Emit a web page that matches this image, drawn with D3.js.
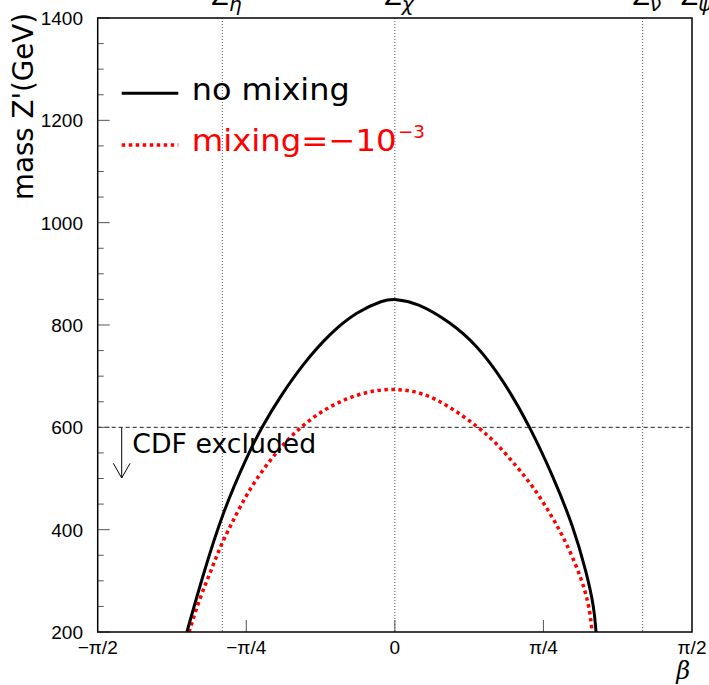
<!DOCTYPE html>
<html>
<head>
<meta charset="utf-8">
<script src="https://cdn.jsdelivr.net/npm/d3@7"></script>
<style>
  html, body { margin: 0; padding: 0; background: #fff; }
  svg { display: block; }
</style>
</head>
<body>
<svg id="chart" width="709" height="685"></svg>
<script>
// ---- data ----
const noMixBeta = [-1.0994, -1.0117, -0.906, -0.7823, -0.703, -0.6064, -0.4833, -0.3422, -0.2011, -0.0605, 0, 0.116, 0.292, 0.433, 0.5736, 0.7147, 0.8378, 0.9435, 1.0143, 1.0529, 1.0635];
const noMixMass = [200, 315, 438, 543, 601, 660, 725, 784, 826, 849, 851, 844, 806, 761, 692, 601, 503, 406, 315, 249, 200];
const mixBeta = [-1.088, -1.029, -0.9763, -0.9235, -0.8707, -0.8178, -0.7475, -0.6593, -0.571, -0.4833, -0.3776, -0.2539, -0.1308, 0, 0.1509, 0.292, 0.433, 0.5387, 0.6444, 0.7321, 0.8204, 0.8907, 0.9615, 1.0053, 1.0318, 1.0423];
const mixMass = [200, 269, 315, 367, 406, 445, 491, 536, 575, 605, 634, 657, 671, 676, 668, 640, 603, 569, 523, 484, 432, 386, 328, 282, 240, 200];
const betaTickValues = [-Math.PI / 2, -Math.PI / 4, 0, Math.PI / 4, Math.PI / 2];
const betaTickLabels = ["\u2212\u03c0/2", "\u2212\u03c0/4", "0", "\u03c0/4", "\u03c0/2"];
const massTickValues = [200, 400, 600, 800, 1000, 1200, 1400];
const modelNames = ["\u03b7", "\u03c7", "\u03bd", "\u03c8"];
const modelBeta = [-0.912, 0, 1.31, Math.PI / 2];
const cdfLimit = 600;
const legendLabels = ["no mixing", "mixing=\u221210"];
const legendSup = "\u22123";

// ---- layout ----
const svg = d3.select("#chart");
const pL = 97.7, pR = 692, pT = 18, pB = 632;
const x = d3.scaleLinear().domain([-Math.PI / 2, Math.PI / 2]).range([pL, pR]);
const y = d3.scaleLinear().domain([200, 1400]).range([pB, pT]);

svg.append("rect").attr("width", 709).attr("height", 685).attr("fill", "#fff");

svg.append("clipPath").attr("id", "plotclip")
  .append("rect").attr("x", pL).attr("y", pT).attr("width", pR - pL).attr("height", pB - pT);

// model dotted lines
svg.append("g").selectAll("line").data(modelBeta.slice(0, 3)).join("line")
  .attr("x1", d => x(d)).attr("x2", d => x(d))
  .attr("y1", pT).attr("y2", pB)
  .attr("stroke", "#555").attr("stroke-width", 1).attr("stroke-dasharray", "1,2");

// CDF excluded dashed line
svg.append("line")
  .attr("x1", pL).attr("x2", pR).attr("y1", y(cdfLimit)).attr("y2", y(cdfLimit))
  .attr("stroke", "#222").attr("stroke-width", 1).attr("stroke-dasharray", "4,3");

// y axis ticks (inside)
const yMinor = d3.range(200, 1401, 50);
svg.append("g").selectAll("line").data(yMinor).join("line")
  .attr("x1", pL).attr("x2", d => pL + (d % 200 === 0 ? 12 : 6))
  .attr("y1", d => y(d)).attr("y2", d => y(d))
  .attr("stroke", "#555").attr("stroke-width", 1);

// y tick labels
svg.append("g").selectAll("text").data(massTickValues).join("text")
  .attr("x", 83).attr("y", d => y(d)).attr("dy", "0.36em")
  .attr("text-anchor", "end")
  .attr("font-family", "Liberation Sans, Arial, sans-serif").attr("font-size", 19)
  .attr("fill", "#000")
  .text(d => d);

// x ticks (inside, upward)
svg.append("g").selectAll("line").data(betaTickValues.slice(1, 4)).join("line")
  .attr("x1", d => x(d)).attr("x2", d => x(d))
  .attr("y1", pB).attr("y2", pB - 12)
  .attr("stroke", "#555").attr("stroke-width", 1);

// x tick labels
svg.append("g").selectAll("text").data(betaTickValues).join("text")
  .attr("x", d => x(d)).attr("y", 654)
  .attr("text-anchor", "middle")
  .attr("font-family", "Liberation Sans, Arial, sans-serif").attr("font-size", 19)
  .attr("fill", "#000")
  .text((d, i) => betaTickLabels[i]);

// x axis title
svg.append("text").attr("x", 690).attr("y", 679).attr("text-anchor", "end")
  .attr("font-family", "DejaVu Serif, serif").attr("font-style", "italic").attr("font-size", 24)
  .text("\u03b2");

// y axis title
svg.append("text")
  .attr("transform", "translate(33,13) rotate(-90)")
  .attr("text-anchor", "end")
  .attr("font-family", "DejaVu Sans, sans-serif").attr("font-size", 28)
  .attr("textLength", 187).attr("lengthAdjust", "spacingAndGlyphs")
  .text("mass Z'(GeV)");

// model labels at top
const ml = svg.append("g").selectAll("text").data(modelBeta).join("text")
  .attr("x", d => x(d) + 4).attr("y", 5)
  .attr("text-anchor", "middle")
  .attr("font-family", "DejaVu Sans, sans-serif").attr("font-size", 26);
ml.append("tspan").text("Z");
ml.append("tspan").attr("font-size", 20).attr("font-style", "italic").attr("dy", 6).text((d, i) => modelNames[i]);

// curves
const line = d3.line().x(d => x(d[0])).y(d => y(d[1])).curve(d3.curveBasis);
const plot = svg.append("g").attr("clip-path", "url(#plotclip)");
plot.append("path")
  .attr("d", line(mixBeta.map((b, i) => [b, mixMass[i]])))
  .attr("fill", "none").attr("stroke", "#ff0000").attr("stroke-width", 3.5)
  .attr("stroke-dasharray", "3.5,3.5");
plot.append("path")
  .attr("d", line(noMixBeta.map((b, i) => [b, noMixMass[i]])))
  .attr("fill", "none").attr("stroke", "#000").attr("stroke-width", 3);

// frame
svg.append("rect").attr("x", pL).attr("y", pT).attr("width", pR - pL).attr("height", pB - pT)
  .attr("fill", "none").attr("stroke", "#000").attr("stroke-width", 1.5);

// CDF excluded annotation
svg.append("text").attr("x", 132.3).attr("y", 453.3)
  .attr("font-family", "DejaVu Sans, sans-serif").attr("font-size", 26)
  .attr("textLength", 184).attr("lengthAdjust", "spacingAndGlyphs")
  .text("CDF excluded");
const ax = 121.7;
svg.append("path")
  .attr("d", `M${ax},${y(cdfLimit)} L${ax},478 M${ax - 8.4},463.3 L${ax},478 L${ax + 8.4},463.3`)
  .attr("fill", "none").attr("stroke", "#000").attr("stroke-width", 1);

// legend
const lg = svg.append("g");
lg.append("line").attr("x1", 121.7).attr("x2", 178.3).attr("y1", 93.3).attr("y2", 93.3)
  .attr("stroke", "#000").attr("stroke-width", 3);
lg.append("text").attr("x", 191.7).attr("y", 100)
  .attr("font-family", "DejaVu Sans, sans-serif").attr("font-size", 31)
  .attr("textLength", 158).attr("lengthAdjust", "spacingAndGlyphs")
  .attr("fill", "#000").text(legendLabels[0]);
lg.append("line").attr("x1", 121.7).attr("x2", 178.3).attr("y1", 145).attr("y2", 145)
  .attr("stroke", "#ff0000").attr("stroke-width", 3.5).attr("stroke-dasharray", "3.5,3.5");
lg.append("text").attr("x", 191.7).attr("y", 150.5)
  .attr("font-family", "DejaVu Sans, sans-serif").attr("font-size", 31)
  .attr("textLength", 205).attr("lengthAdjust", "spacingAndGlyphs")
  .attr("fill", "#ff0000").text(legendLabels[1]);
lg.append("text").attr("x", 398).attr("y", 138)
  .attr("font-family", "DejaVu Sans, sans-serif").attr("font-size", 18)
  .attr("textLength", 27).attr("lengthAdjust", "spacingAndGlyphs")
  .attr("fill", "#ff0000").text(legendSup);
</script>
</body>
</html>
